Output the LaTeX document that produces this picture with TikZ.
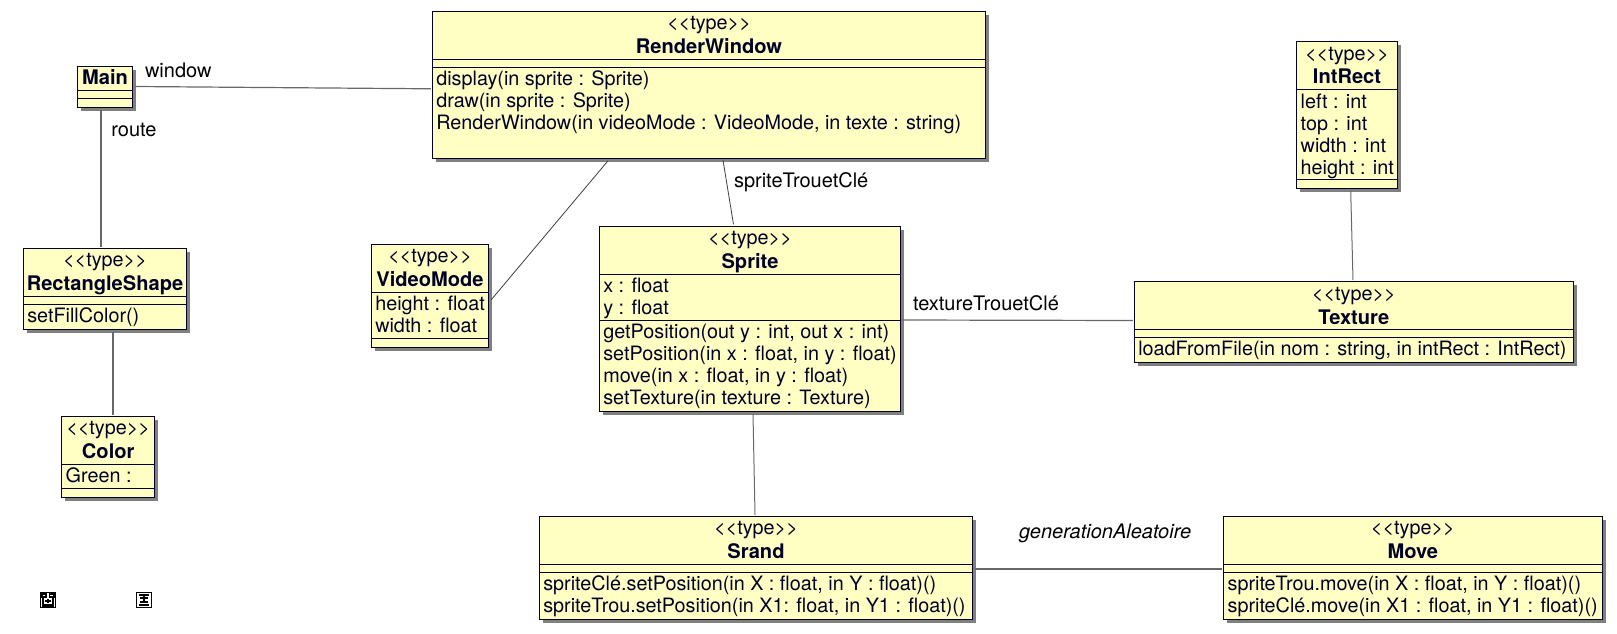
\documentclass[tikz,border=0pt]{standalone}
\usepackage{fontspec}
\setmainfont{TeX Gyre Heros}
\definecolor{umlfill}{HTML}{FFFFC4}
\definecolor{umlink}{HTML}{000028}
\definecolor{umlshadow}{HTML}{808080}
\definecolor{umlline}{HTML}{686868}
\newcommand{\umlst}{<{}<type>{}>}
\newcommand{\umlreg}{\fontsize{19.8}{22}\selectfont}
\newcommand{\umlbld}{\fontsize{20.1}{22}\selectfont\bfseries}
\tikzset{
  x=1pt,y=-1pt,
  umlbody/.style={draw=umlink,line width=0.9pt,fill=umlfill,inner sep=0pt,outer sep=0pt,rectangle},
  umlshade/.style={fill=umlshadow,draw=none},
  umldiv/.style={draw=umlink,line width=0.9pt},
  umltxt/.style={inner sep=0pt,outer sep=0pt,text=umlink,font=\umlreg},
  asso/.style={draw=umlline,line width=1.2pt},
  asslabel/.style={inner sep=0pt,outer sep=0pt,anchor=base west,text=black,font=\fontsize{20}{22}\selectfont},
  iconln/.style={draw=black,line width=1.1pt}
}
% name, x0, y0, x1, y1
\newcommand{\umlbox}[5]{%
  \fill[umlshade] (#2+3.5,#3+3.5) rectangle (#4+3.5,#5+3.5);
  \node[umlbody,minimum width={(#4)-(#2)},minimum height={(#5)-(#3)},anchor=north west] (#1) at (#2,#3) {};
}
% box, relative y of divider
\newcommand{\umldiv}[2]{\draw[umldiv] ([yshift=-#2 pt]#1.north west) -- ([yshift=-#2 pt]#1.north east);}
% box, class name
\newcommand{\umlhead}[2]{%
  \node[umltxt,anchor=base] (#1-st) at ([yshift=-18.3pt]#1.north) {\umlst};
  \node[umltxt,anchor=base,font=\umlbld] (#1-nm) at ([yshift=-42.3pt]#1.north) {#2};
}
% box, group tag, y offset of the first baseline, list
\newcommand{\umllines}[4]{%
  \foreach \t [count=\i from 0] in {#4} {
    \node[umltxt,anchor=base west] (#1-#2\i) at ([xshift=4pt,yshift=-#3 pt-22pt*\i-0.8pt]#1.north west) {\t};
  }
}
\begin{document}
\begin{tikzpicture}
\useasboundingbox (0,0) rectangle (1617,634);

\umlbox{main}{77.3}{66.3}{132.7}{107.3}
\umldiv{main}{24}\umldiv{main}{32}
\node[umltxt,anchor=base,font=\umlbld] (main-nm) at ([yshift=-18.5pt]main.north) {Main};

\umlbox{rect}{23.3}{248.3}{186.7}{329.3}
\umldiv{rect}{48}\umldiv{rect}{56}
\umlhead{rect}{RectangleShape}
\umllines{rect}{m}{73.5}{setFillColor()}

\umlbox{color}{61.7}{416.3}{154.7}{497.3}
\umldiv{color}{48}\umldiv{color}{72}
\umlhead{color}{Color}
\umllines{color}{a}{65.5}{Green :}

\umlbox{video}{371.3}{244.3}{488.7}{347.3}
\umldiv{video}{48}\umldiv{video}{94}
\umlhead{video}{VideoMode}
\umllines{video}{a}{65.5}{height : float,width : float}

\umlbox{render}{432.3}{11.3}{985.7}{158.3}
\umldiv{render}{48}\umldiv{render}{56}
\umlhead{render}{RenderWindow}
\umllines{render}{m}{73.5}{{display(in sprite : Sprite)},{draw(in sprite : Sprite)},{RenderWindow(in videoMode : VideoMode, in texte : string)}}

\umlbox{sprite}{599.3}{226.3}{900.7}{411.3}
\umldiv{sprite}{48}\umldiv{sprite}{93.7}
\umlhead{sprite}{Sprite}
\umllines{sprite}{a}{65.5}{x : float,y : float}
\umllines{sprite}{m}{111}{{getPosition(out y : int, out x : int)},{setPosition(in x : float, in y : float)},{move(in x : float, in y : float)},{setTexture(in texture : Texture)}}

\umlbox{intrect}{1296.7}{41.7}{1397.3}{188.3}
\umldiv{intrect}{47.6}\umldiv{intrect}{137.6}
\umlhead{intrect}{IntRect}
\umllines{intrect}{a}{65.5}{left : int,top : int,width : int,height : int}

\umlbox{texture}{1134.3}{281.7}{1573.3}{362.3}
\umldiv{texture}{47.6}\umldiv{texture}{55.6}
\umlhead{texture}{Texture}
\umllines{texture}{m}{73}{{loadFromFile(in nom : string, in intRect : IntRect)}}

\umlbox{srand}{539.3}{516.3}{972.7}{619}
\umldiv{srand}{48}\umldiv{srand}{56}
\umlhead{srand}{Srand}
\umllines{srand}{m}{73.5}{{spriteClé.setPosition(in X : float, in Y : float)()},{spriteTrou.setPosition(in X1: float, in Y1 : float)()}}

\umlbox{move}{1223.6}{516.3}{1602}{619}
\umldiv{move}{48}\umldiv{move}{56}
\umlhead{move}{Move}
\umllines{move}{m}{73.5}{{spriteTrou.move(in X : float, in Y : float)()},{spriteClé.move(in X1 : float, in Y1 : float)()}}

% connectors
\draw[asso] ([shift={(2.5pt,-20.2pt)}]main.north east) -- ([shift={(-1.5pt,-77.5pt)}]render.north west);
\draw[asso] ([shift={(23.7pt,-2.5pt)}]main.south west) -- ([shift={(77.7pt,1.5pt)}]rect.north west);
\draw[asso] ([shift={(89.7pt,-2.5pt)}]rect.south west) -- ([shift={(51.3pt,1.5pt)}]color.north west);
\draw[asso,draw=umlline!60!black,line width=0.8pt] ([shift={(175.7pt,-2.5pt)}]render.south west) -- ([shift={(2.5pt,-55.5pt)}]video.north east);
\draw[asso,draw=umlline!60!black,line width=0.8pt] ([shift={(290.7pt,-2pt)}]render.south west) -- ([shift={(134.2pt,2pt)}]sprite.north west);
\draw[asso,line width=1pt] ([shift={(153.7pt,-2.5pt)}]sprite.south west) -- ([shift={(215.7pt,1.5pt)}]srand.north west);
\draw[asso] ([shift={(1pt,-93.7pt)}]sprite.north east) -- ([shift={(-1.5pt,-38.8pt)}]texture.north west);
\draw[asso,line width=1pt] ([shift={(54pt,-2.5pt)}]intrect.south west) -- ([shift={(218.7pt,1.5pt)}]texture.north west);
\draw[asso] ([shift={(2.5pt,-52.7pt)}]srand.north east) -- ([shift={(-1.5pt,-52.7pt)}]move.north west);

% connector labels
\node[asslabel] (l-window) at (145,77.3) {window};
\node[asslabel] (l-route) at (111.3,136.3) {route};
\node[asslabel] (l-stc) at (734,187) {spriteTrouetClé};
\node[asslabel] (l-ttc) at (913,310.6) {textureTrouetClé};
\node[asslabel,font=\fontsize{20}{22}\selectfont\itshape] (l-gen) at (1019,538.6) {generationAleatoire};

% diagram-type icons
\draw[iconln,fill=white,line width=1.3pt] (40.5,592.5) rectangle (55.5,607.5);
\draw[iconln] (42,594) rectangle (46,597) (49.5,594) rectangle (54,597) (43,598) -- (43,605) -- (53,605) -- (53,598) (45,601) -- (51,601) (48,599) -- (48,603) (42,606.5) -- (54,606.5);
\draw[iconln,fill=white,line width=1.3pt] (136.5,592.5) rectangle (151.5,607.5);
\draw[iconln] (139,595) -- (149,595) (140,598) -- (148,598) (144,595) -- (144,602) (140,602) -- (148,602) (139,605) -- (149,605);
\end{tikzpicture}
\end{document}
